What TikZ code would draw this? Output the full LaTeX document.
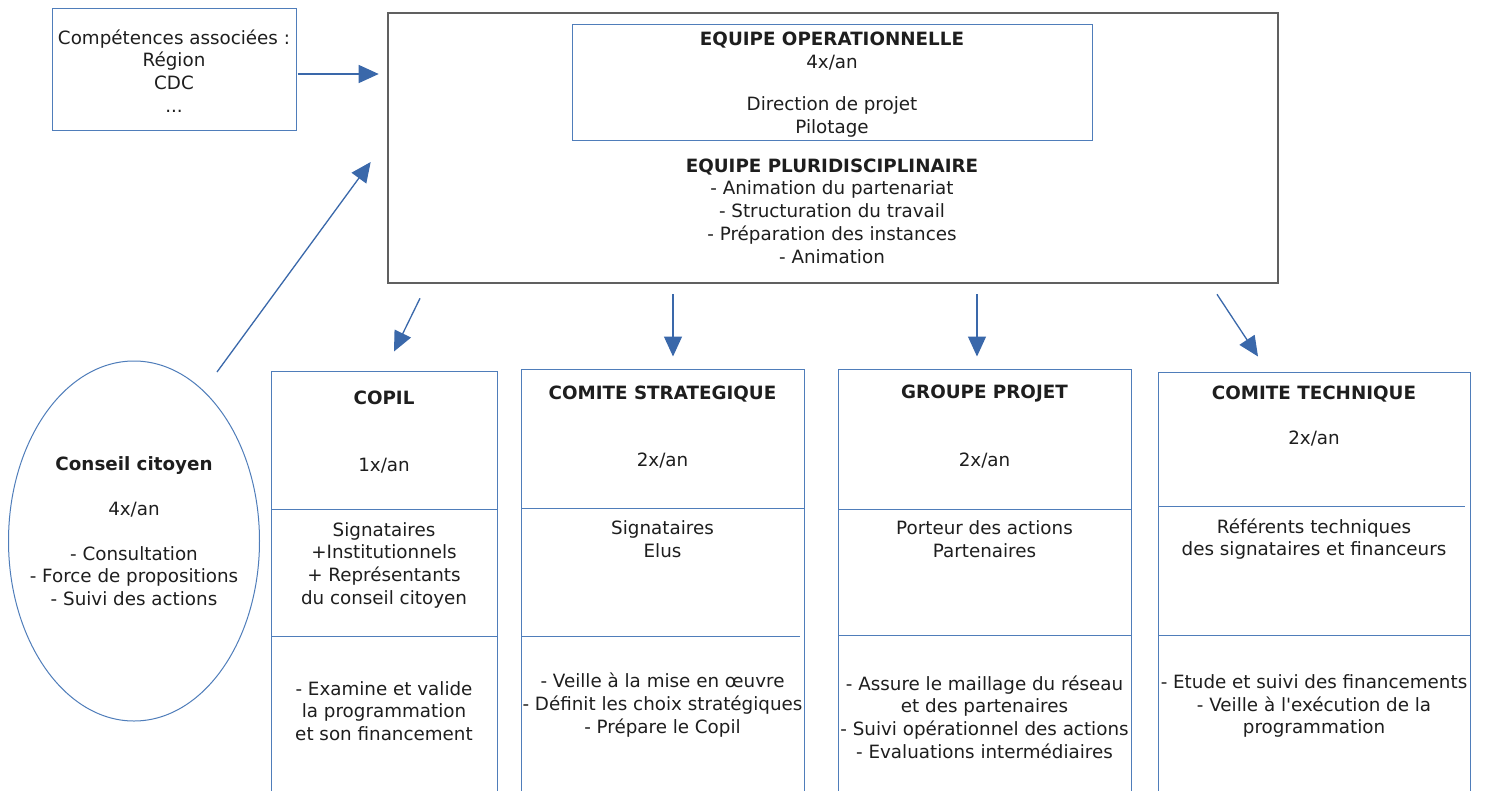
\documentclass[tikz,border=0pt]{standalone}
\usepackage{fontspec}
\setmainfont{DejaVu Sans}
\usetikzlibrary{arrows.meta,calc,shapes.geometric}
\definecolor{boxblue}{HTML}{4F7DBA}
\definecolor{arrblue}{HTML}{3A68AA}
\definecolor{txtc}{HTML}{1E1E1E}
\begin{document}
\begin{tikzpicture}[x=1pt,y=-1pt,
  bluebox/.style={draw=boxblue,line width=1pt,inner sep=0pt},
  bigbox/.style={draw=gray!75!black,line width=2.6pt,inner sep=0pt},
  txt/.style={align=center,inner sep=0pt,text=txtc,font=\fontsize{18.3}{22.7}\selectfont},
  arr/.style={draw=arrblue,line width=1.3pt,-{Triangle[length=20pt,width=18pt]},arrblue},
  divline/.style={draw=boxblue,line width=1pt}]
\useasboundingbox[fill=white] (0,0) rectangle (1485,790);
\clip (0,0) rectangle (1485,790);
% top-left box
\node[bluebox,minimum width=244pt,minimum height=122pt] (comp) at (174,69) {};
\node[txt] (comptxt) at (174,71) {Compétences associées :\\Région\\CDC\\...};
% big box
\node[bigbox,minimum width=890pt,minimum height=270pt] (eq) at (833,148) {};
\node[bluebox,minimum width=520pt,minimum height=116pt] (op) at (832,82) {};
\node[txt] (optitle) at (832,51) {\textbf{EQUIPE OPERATIONNELLE}\\4x/an};
\node[txt] (opdir) at (832,117) {Direction de projet\\Pilotage};
\node[txt] (pluri) at (832,211) {\textbf{EQUIPE PLURIDISCIPLINAIRE}\\- Animation du partenariat\\- Structuration du travail\\- Préparation des instances\\- Animation};
% ellipse
\node[draw=boxblue,line width=1pt,ellipse,minimum width=251pt,minimum height=360pt,inner sep=0pt] (cc) at (134,541) {};
\node[txt] (cctitle) at (134,466) {\textbf{Conseil citoyen}};
\node[txt] (ccfreq) at (134,510) {4x/an};
\node[txt] (cclist) at (134,576) {- Consultation\\- Force de propositions\\- Suivi des actions};
% columns
\node[bluebox,minimum width=226pt,minimum height=440pt] (copil) at (384,591) {};
\node[bluebox,minimum width=283pt,minimum height=440pt] (strat) at (662.5,589) {};
\node[bluebox,minimum width=293pt,minimum height=440pt] (gp) at (984.5,589) {};
\node[bluebox,minimum width=312pt,minimum height=440pt] (ct) at (1314,592) {};
\draw[divline] (271,509) -- (497,509) (271,636) -- (497,636);
\draw[divline] (521,508) -- (804,508) (521,636) -- (800,636);
\draw[divline] (838,509) -- (1131,509) (838,635) -- (1131,635);
\draw[divline] (1158,506) -- (1465,506) (1158,635) -- (1470,635);
% column texts
\node[txt] (copilt) at (384,398) {\textbf{COPIL}};
\node[txt] (copilf) at (384,466) {1x/an};
\node[txt] (copilm) at (384,565) {Signataires\\+Institutionnels\\+ Représentants\\du conseil citoyen};
\node[txt] (copilr) at (384,711) {- Examine et valide\\la programmation\\et son financement};
\node[txt] (stratt) at (662.5,394) {\textbf{COMITE STRATEGIQUE}};
\node[txt] (stratf) at (662.5,461) {2x/an};
\node[txt] (stratm) at (662.5,539) {Signataires\\Elus};
\node[txt] (stratr) at (662.5,705) {- Veille à la mise en œuvre\\- Définit les choix stratégiques\\- Prépare le Copil};
\node[txt] (gpt) at (984.5,394) {\textbf{GROUPE PROJET}};
\node[txt] (gpf) at (984.5,461) {2x/an};
\node[txt] (gpm) at (984.5,539) {Porteur des actions\\Partenaires};
\node[txt] (gpr) at (984.5,717) {- Assure le maillage du réseau\\et des partenaires\\- Suivi opérationnel des actions\\- Evaluations intermédiaires};
\node[txt] (ctt) at (1314,394) {\textbf{COMITE TECHNIQUE}};
\node[txt] (ctf) at (1314,439) {2x/an};
\node[txt] (ctm) at (1314,539) {Référents techniques\\des signataires et financeurs};
\node[txt] (ctr) at (1314,706) {- Etude et suivi des financements\\- Veille à l\textquotesingle exécution de la\\programmation};
% arrows
\draw[arr] ($(comp.east)+(1,5)$) -- ($(eq.west)+(-8,-74)$);
\draw[arr] ($(cc.center)+(83,-169)$) -- ($(eq.west)+(-16,14)$);
\draw[arr] ($(eq.south)+(-413,14)$) -- ($(copil.north)+(10,-19)$);
\draw[arr] ($(eq.south)+(-160,10)$) -- ($(strat.north)+(10.5,-12)$);
\draw[arr] ($(eq.south)+(144,10)$) -- ($(gp.north)+(-7.5,-12)$);
\draw[arr] ($(eq.south)+(384,10)$) -- ($(ct.north)+(-56,-15)$);
\end{tikzpicture}
\end{document}
